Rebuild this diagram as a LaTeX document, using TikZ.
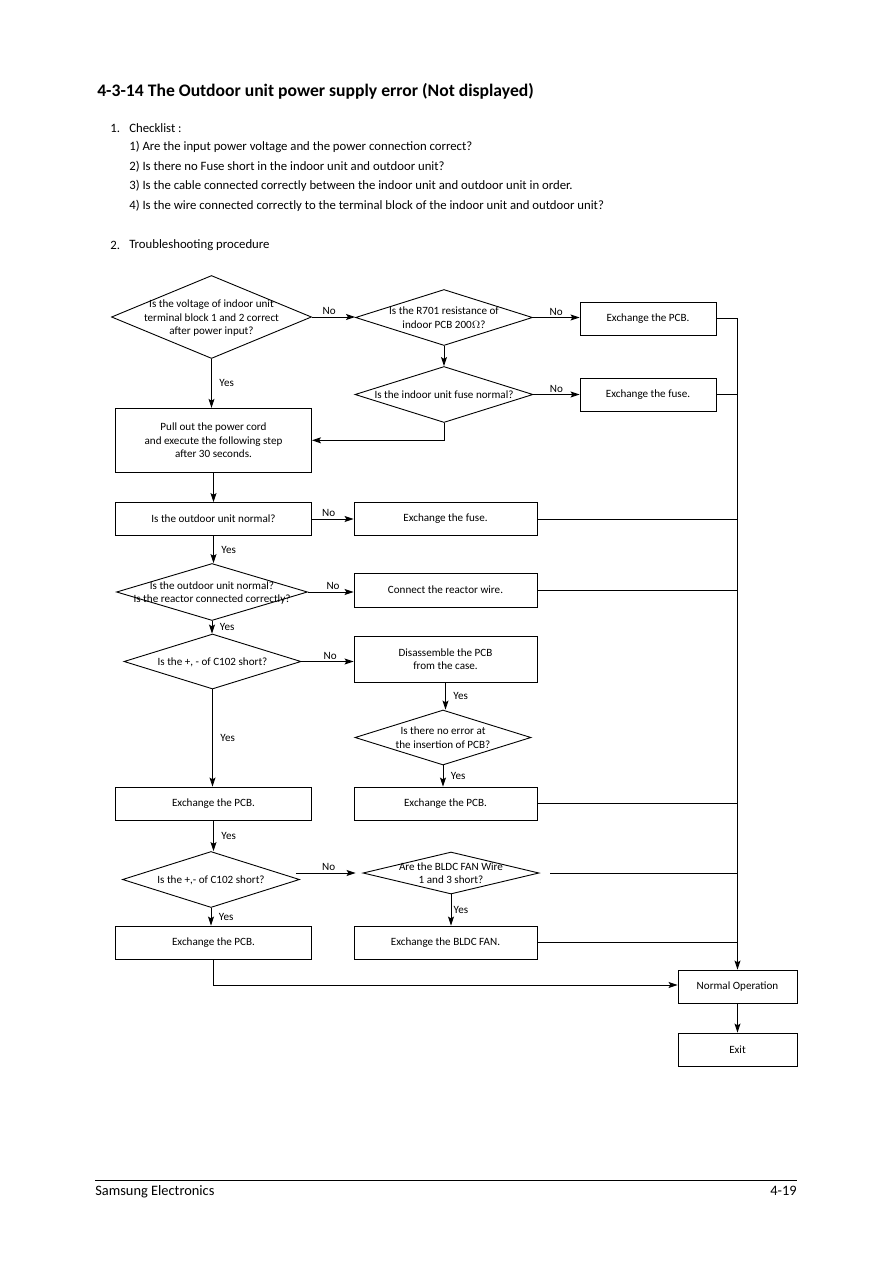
\documentclass[tikz,border=0pt]{standalone}
\usepackage{fontspec}
\setmainfont{Carlito}
\usetikzlibrary{arrows.meta,shapes.geometric}

\def\px{0.6667pt}
\newcommand\dtext[1]{\smash{\makebox[0pt]{\raisebox{-2.7pt}{\begin{tabular}{@{}c@{}}#1\end{tabular}}}}}

\tikzset{
  flowfont/.style={font=\fontsize{7.4}{9}\selectfont},
  proc/.style={rectangle, draw, line width=0.6pt, inner sep=0pt, align=center, flowfont},
  dec/.style={diamond, draw, line width=0.6pt, inner sep=0pt, flowfont},
  lbl/.style={inner sep=1pt, flowfont},
  arr/.style={line width=0.6pt, -{Stealth[length=6pt, width=4pt, inset=1.2pt]}},
  wire/.style={line width=0.6pt},
  body/.style={anchor=west, inner sep=0pt, font=\fontsize{8.5}{11}\selectfont},
}

\begin{document}
\begin{tikzpicture}[x=0.6667pt, y=-0.6667pt]
\useasboundingbox (0,0) rectangle (893,1263);

% heading and checklist
\node[anchor=west, inner sep=0pt, font=\fontsize{11.75}{14}\selectfont\bfseries] (title) at (97,91) {4-3-14 The Outdoor unit power supply error (Not displayed)};
\node[body] (n1) at (110,128) {1.};
\node[body] (chk) at (129,128) {Checklist :};
\node[body] (chk1) at (129,147) {1) Are the input power voltage and the power connection correct?};
\node[body] (chk2) at (129,167) {2) Is there no Fuse short in the indoor unit and outdoor unit?};
\node[body] (chk3) at (129,186) {3) Is the cable connected correctly between the indoor unit and outdoor unit in order.};
\node[body] (chk4) at (129,206) {4) Is the wire connected correctly to the terminal block of the indoor unit and outdoor unit?};
\node[body] (n2) at (110,245) {2.};
\node[body] (proc) at (129,245) {Troubleshooting procedure};

% decisions and boxes
\node[dec, minimum width={200*\px}, minimum height={83*\px}] (chkvolt) at (211.5,317) {\dtext{Is the voltage of indoor unit\\terminal block 1 and 2 correct\\after power input?}};
\node[dec, minimum width={177*\px}, minimum height={56*\px}] (chkr701) at (444,317.5) {\dtext{Is the R701 resistance of\\indoor PCB 200\(\Omega\)?}};
\node[proc, minimum width={136*\px}, minimum height={33*\px}] (pcb1) at (648,318.5) {Exchange the PCB.};
\node[dec, minimum width={178*\px}, minimum height={56*\px}] (chkfuse) at (444,394.5) {\dtext{Is the indoor unit fuse normal?}};
\node[proc, minimum width={136*\px}, minimum height={33*\px}] (fuse1) at (648,394.5) {Exchange the fuse.};
\node[proc, minimum width={196*\px}, minimum height={64*\px}] (pullcord) at (213.5,440.3) {Pull out the power cord\\and execute the following step\\after 30 seconds.};
\node[proc, minimum width={196*\px}, minimum height={33*\px}] (chkodu) at (213.5,519) {Is the outdoor unit normal?};
\node[proc, minimum width={183*\px}, minimum height={33*\px}] (fuse2) at (445.5,519) {Exchange the fuse.};
\node[dec, minimum width={191*\px}, minimum height={57*\px}] (chkreactor) at (212,592) {\dtext{Is the outdoor unit normal?\\Is the reactor connected correctly?}};
\node[proc, minimum width={183*\px}, minimum height={34*\px}] (reactor) at (445.5,590) {Connect the reactor wire.};
\node[dec, minimum width={177*\px}, minimum height={55*\px}] (chkc1) at (212.5,661.5) {\dtext{Is the +, - of C102 short?}};
\node[proc, minimum width={183*\px}, minimum height={46*\px}] (disasm) at (445.5,659) {Disassemble the PCB\\from the case.};
\node[dec, minimum width={176*\px}, minimum height={55*\px}] (chkinsert) at (443,737.5) {\dtext{Is there no error at\\the insertion of PCB?}};
\node[proc, minimum width={183*\px}, minimum height={33*\px}] (pcb2) at (445.5,803.5) {Exchange the PCB.};
\node[proc, minimum width={196*\px}, minimum height={33*\px}] (pcb3) at (213.5,803.5) {Exchange the PCB.};
\node[dec, minimum width={177*\px}, minimum height={56*\px}] (chkc2) at (211,879.5) {\dtext{Is the +,- of C102 short?}};
\node[dec, minimum width={176*\px}, minimum height={42*\px}] (chkfan) at (451,873) {\dtext{Are the BLDC FAN Wire\\1 and 3 short?}};
\node[proc, minimum width={196*\px}, minimum height={33*\px}] (pcb4) at (213.5,942.5) {Exchange the PCB.};
\node[proc, minimum width={183*\px}, minimum height={33*\px}] (fan) at (445.5,942.5) {Exchange the BLDC FAN.};
\node[proc, minimum width={119*\px}, minimum height={33*\px}] (normal) at (737.5,986.5) {Normal Operation};
\node[proc, minimum width={119*\px}, minimum height={33*\px}] (exit) at (737.5,1049.5) {Exit};

% connectors
\draw[arr] (chkvolt.east) -- node[lbl, above, pos=0.4] (no1) {No} (chkvolt.east -| chkr701.west);
\draw[arr] (chkr701.east) -- node[lbl, above] (no2) {No} (chkr701.east -| pcb1.west);
\draw[arr] (chkr701.south) -- (chkfuse.north);
\draw[arr] (chkfuse.east) -- node[lbl, above] (no3) {No} (fuse1.west);
\draw[arr] (chkfuse.south) |- (pullcord.east);
\draw[arr] (chkvolt.south) -- node[lbl, right=4pt] (yes1) {Yes} (chkvolt.south |- pullcord.north);
\draw[arr] (pullcord.south) -- (chkodu.north);
\draw[arr] (chkodu.east) -- node[lbl, above, pos=0.4] (no4) {No} (fuse2.west);
\draw[arr] (chkodu.south) -- node[lbl, right=4pt] (yes2) {Yes} (chkodu.south |- chkreactor.north);
\draw[arr] (chkreactor.east) -- node[lbl, above, pos=0.55] (no5) {No} (chkreactor.east -| reactor.west);
\draw[arr] (chkreactor.south) -- node[lbl, right=4pt] (yes3) {Yes} (chkreactor.south |- chkc1.north);
\draw[arr] (chkc1.east) -- node[lbl, above, pos=0.55] (no6) {No} (chkc1.east -| disasm.west);
\draw[arr] (disasm.south) -- node[lbl, right=4pt] (yes4) {Yes} (disasm.south |- chkinsert.north);
\draw[arr] (chkinsert.south) -- node[lbl, right=4pt] (yes5) {Yes} (chkinsert.south |- pcb2.north);
\draw[arr] (chkc1.south) -- node[lbl, right=4pt] (yes6) {Yes} (chkc1.south |- pcb3.north);
\draw[arr] (pcb3.south) -- node[lbl, right=4pt] (yes7) {Yes} (pcb3.south |- chkc2.north);
\draw[arr] ([xshift={-4*\px}]chkc2.east |- chkfan.west) -- node[lbl, above, pos=0.55] (no7) {No} ([xshift={-7*\px}]chkfan.west);
\draw[arr] (chkc2.south) -- node[lbl, right=4pt] (yes8) {Yes} (chkc2.south |- pcb4.north);
\draw[arr] (chkfan.south) -- node[lbl, right=0.5pt] (yes9) {Yes} (chkfan.south |- fan.north);
\draw[arr] (pcb4.south) |- ([yshift={1.5*\px}]normal.west);

% return bus
\coordinate (bustop) at (pcb1.east -| normal.north);
\draw[wire] (pcb1.east) -- (bustop);
\draw[arr] (bustop) -- (normal.north);
\draw[wire] (fuse1.east) -- (fuse1.east -| bustop);
\draw[wire] (fuse2.east) -- (fuse2.east -| bustop);
\draw[wire] (reactor.east) -- (reactor.east -| bustop);
\draw[wire] (pcb2.east) -- (pcb2.east -| bustop);
\draw[wire] ([xshift={11*\px}]chkfan.east) -- (chkfan.east -| bustop);
\draw[wire] (fan.east) -- (fan.east -| bustop);
\draw[arr] (normal.south) -- (exit.north);

% footer
\coordinate (footl) at (95,1180);
\coordinate (footr) at (797,1180);
\draw[line width=0.6pt] (footl) -- (footr);
\node[anchor=base west, inner sep=0pt, font=\fontsize{9.6}{11}\selectfont] (company) at (95,1195) {Samsung Electronics};
\node[anchor=base east, inner sep=0pt, font=\fontsize{9.6}{11}\selectfont] (page) at (797,1195) {4-19};
\end{tikzpicture}
\end{document}
